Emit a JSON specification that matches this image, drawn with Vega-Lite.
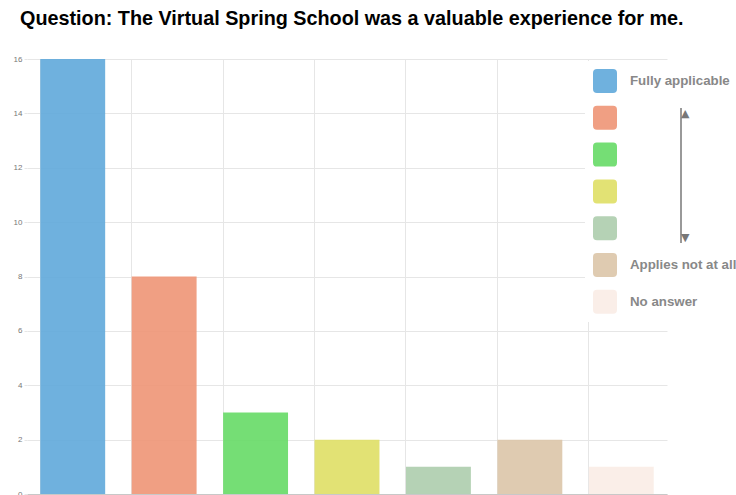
{
  "$schema": "https://vega.github.io/schema/vega-lite/v6.json",
  "width": 640,
  "height": 435,
  "autosize": {"type": "none"},
  "padding": {"left": 27, "top": 59, "right": 69, "bottom": 1},
  "background": "#ffffff",
  "title": {
    "text": "Question: The Virtual Spring School was a valuable experience for me.",
    "anchor": "start",
    "frame": "group",
    "font": "Liberation Sans",
    "fontSize": 19.8,
    "fontWeight": "bold",
    "color": "#000000",
    "dx": -7,
    "offset": 26
  },
  "config": {"view": {"stroke": null}},
  "layer": [
    {
      "data": {
        "values": [
          {"answer": "Fully applicable", "count": 16},
          {"answer": "2", "count": 8},
          {"answer": "3", "count": 3},
          {"answer": "4", "count": 2},
          {"answer": "5", "count": 1},
          {"answer": "Applies not at all", "count": 2},
          {"answer": "No answer", "count": 1}
        ]
      },
      "mark": {"type": "bar", "opacity": 0.9},
      "encoding": {
        "x": {
          "field": "answer",
          "type": "nominal",
          "sort": ["Fully applicable", "2", "3", "4", "5", "Applies not at all", "No answer"],
          "scale": {"paddingInner": 0.29, "paddingOuter": 0.145},
          "axis": {
            "title": null,
            "labels": false,
            "ticks": false,
            "grid": true,
            "bandPosition": 0,
            "gridColor": "#e6e6e6",
            "domainColor": "#c8c8c8"
          }
        },
        "y": {
          "field": "count",
          "type": "quantitative",
          "scale": {"domain": [0, 16]},
          "axis": {
            "title": null,
            "values": [0, 2, 4, 6, 8, 10, 12, 14, 16],
            "domain": false,
            "tickSize": 3,
            "tickColor": "#e6e6e6",
            "gridColor": "#e6e6e6",
            "labelFont": "Liberation Sans",
            "labelFontSize": 8,
            "labelColor": "#777777",
            "labelPadding": 2
          }
        },
        "fill": {
          "field": "answer",
          "type": "nominal",
          "scale": {
            "domain": ["Fully applicable", "2", "3", "4", "5", "Applies not at all", "No answer"],
            "range": ["#5FA8DA", "#EE9576", "#66DA66", "#DFDF65", "#ADCDAD", "#DBC5A8", "#FAECE5"]
          },
          "legend": {
            "orient": "none",
            "legendX": 558,
            "legendY": 2,
            "direction": "vertical",
            "title": null,
            "symbolType": "M-0.67,-1H0.67Q1,-1 1,-0.67V0.67Q1,1 0.67,1H-0.67Q-1,1 -1,0.67V-0.67Q-1,-1 -0.67,-1Z",
            "symbolSize": 576,
            "symbolStrokeWidth": 0,
            "symbolOpacity": 0.9,
            "labelExpr": "length(datum.label) <= 1 ? '' : datum.label",
            "labelFont": "Liberation Sans",
            "labelFontSize": 13.3,
            "labelFontWeight": "bold",
            "labelColor": "#888888",
            "labelOffset": 13,
            "labelLimit": 200,
            "rowPadding": 12.8,
            "padding": 8,
            "fillColor": "#ffffff"
          }
        }
      }
    },
    {
      "data": {"values": [{"v": 0}, {"v": 1}]},
      "mark": {"type": "point", "opacity": 0},
      "encoding": {
        "stroke": {
          "field": "v",
          "type": "quantitative",
          "scale": {"domain": [0, 1], "range": ["#777777", "#777777"]},
          "legend": {
            "orient": "none",
            "legendX": 653.25,
            "legendY": 49,
            "direction": "vertical",
            "title": null,
            "gradientLength": 135,
            "gradientThickness": 1.5,
            "gradientStrokeWidth": 0,
            "values": [0, 1],
            "labelExpr": "datum.value == 1 ? '▲' : '▼'",
            "labelFont": "DejaVu Sans",
            "labelFontSize": 11,
            "labelColor": "#777777",
            "labelAlign": "center",
            "labelOffset": -0.75,
            "padding": 0,
            "zindex": 1
          }
        }
      }
    }
  ]
}
